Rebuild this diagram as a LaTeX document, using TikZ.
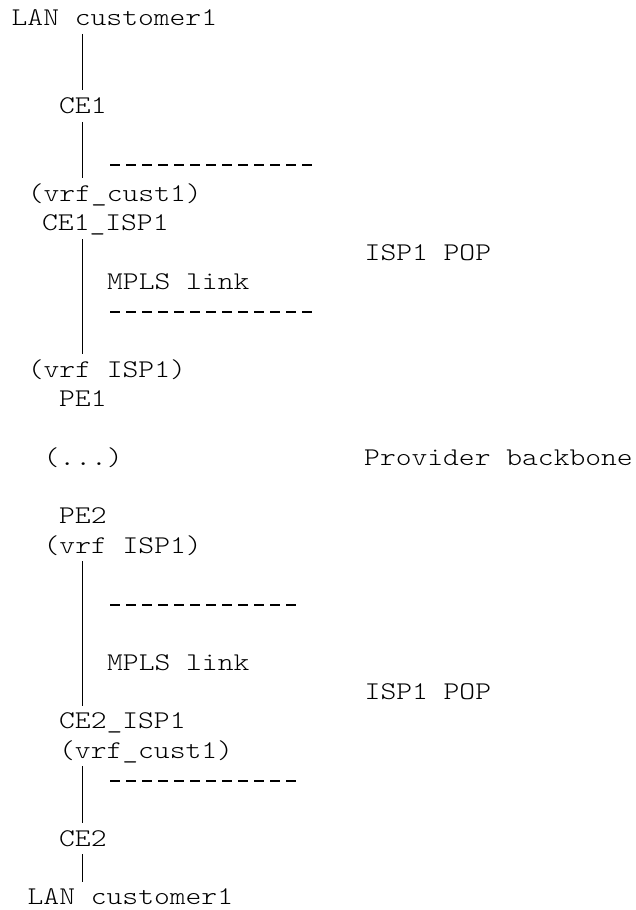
\documentclass[tikz,border=0pt]{standalone}
\usepackage{fontspec}
\newfontfamily\asciifont{Latin Modern Mono Light}[FakeStretch=1.18]
\begin{document}
\begin{tikzpicture}[x=1pt, y=-1pt,
	lbl/.style = {inner sep=0pt, anchor=base west, text height=23pt, text depth=8pt, font=\asciifont\fontsize{25.5}{29}\selectfont},
	link/.style = {line width=1.2pt},
	sepline/.style = {line width=1.2pt, dash pattern=on 9.5pt off 6.5pt}]
				\useasboundingbox (0,0) rectangle (636,910);
				\node[lbl] (lan1) at (11.5,25.7) {LAN customer1};
				\node[lbl] (ce1) at (59,113.6) {CE1};
				\node[lbl] (vrfcust1) at (27.7,201.5) {(vrf\_cust1)};
				\node[lbl] (ceisp1) at (42,230.8) {CE1\_ISP1};
				\node[lbl] (pop1) at (364.5,260.1) {ISP1 POP};
				\node[lbl] (mpls1) at (107,289.4) {MPLS link};
				\node[lbl] (vrfisp1) at (27.7,377.3) {(vrf ISP1)};
				\node[lbl] (pe1) at (59,406.6) {PE1};
				\node[lbl] (dots) at (43.5,465.2) {(...)};
				\node[lbl] (core) at (364,465.2) {Provider backbone};
				\node[lbl] (pe2) at (59,523.8) {PE2};
				\node[lbl] (vrfisp2) at (43.5,553.1) {(vrf ISP1)};
				\node[lbl] (mpls2) at (107,670.3) {MPLS link};
				\node[lbl] (pop2) at (364.5,699.6) {ISP1 POP};
				\node[lbl] (ceisp2) at (59,728.9) {CE2\_ISP1};
				\node[lbl] (vrfcust2) at (59,758.2) {(vrf\_cust1)};
				\node[lbl] (ce2) at (59,846.1) {CE2};
				\node[lbl] (lan2) at (27.5,904.7) {LAN customer1};
				\coordinate (sep1a) at (110,165);
				\coordinate (sep1b) at (312,165);
				\coordinate (sep2a) at (110,312);
				\coordinate (sep2b) at (314,312);
				\coordinate (sep3a) at (110,605);
				\coordinate (sep3b) at (296,605);
				\coordinate (sep4a) at (110,781);
				\coordinate (sep4b) at (297,781);
				\draw[link] (lan1.south -| ce1.north) -- (ce1.north);
				\draw[link] (ce1.south) -- (ce1.south |- vrfcust1.north);
				\draw[link] (ceisp1.south -| ce1.north) -- (vrfisp1.north -| ce1.north);
				\draw[link] (vrfisp2.south -| ce1.north) -- (ceisp2.north -| ce1.north);
				\draw[link] (vrfcust2.south -| ce2.north) -- (ce2.north);
				\draw[link] (ce2.south) -- (ce2.south |- lan2.north);
				\draw[sepline] (sep1a) -- (sep1b);
				\draw[sepline] (sep2a) -- (sep2b);
				\draw[sepline] (sep3a) -- (sep3b);
				\draw[sepline] (sep4a) -- (sep4b);
			\end{tikzpicture}
\end{document}
